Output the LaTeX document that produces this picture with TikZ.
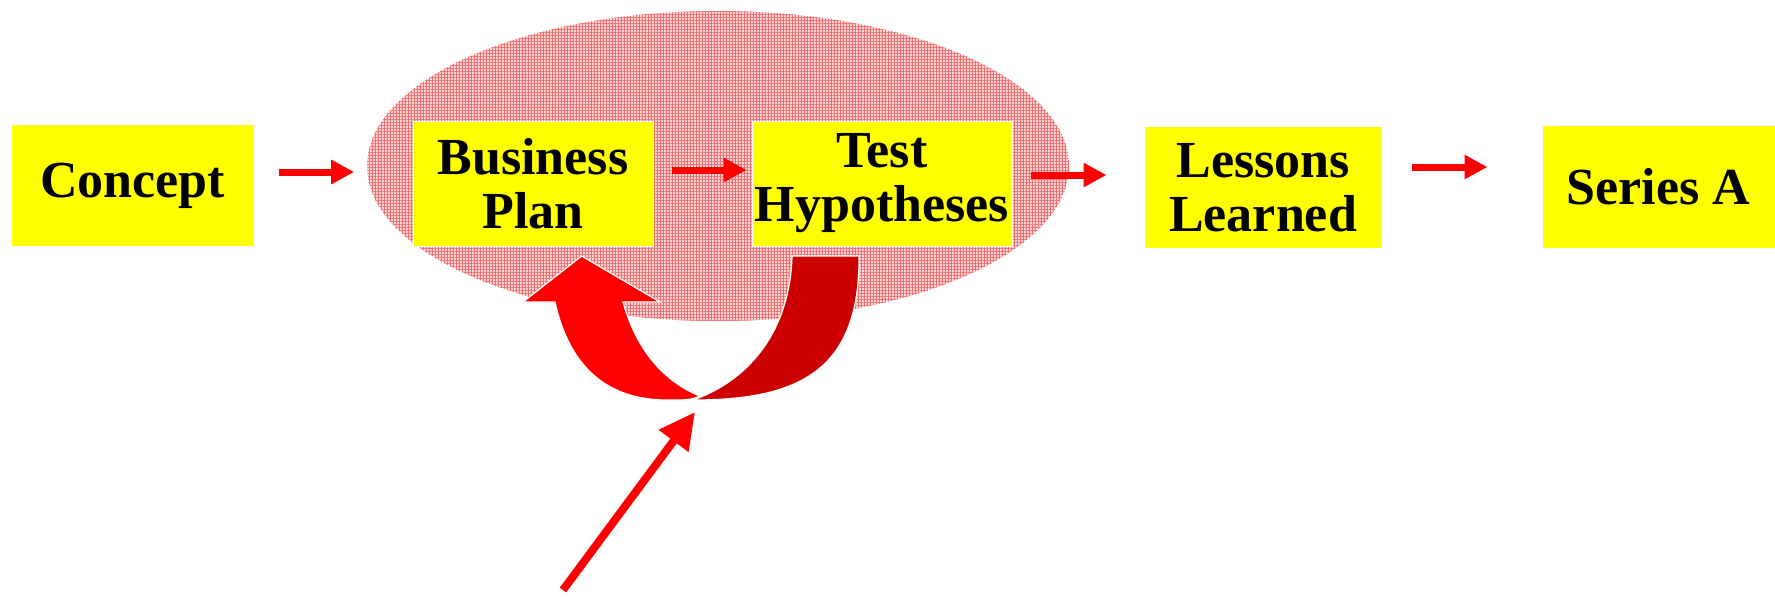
\documentclass[tikz,border=0pt]{standalone}
\usepackage{fontspec}
\setmainfont{Liberation Serif}
\usetikzlibrary{positioning,arrows.meta,calc,shapes,patterns.meta}
\definecolor{boxyellow}{RGB}{255,255,0}
\definecolor{loopred}{RGB}{204,0,0}
\definecolor{haze}{RGB}{252,214,214}
\definecolor{hazeline}{RGB}{242,110,110}
\tikzset{
    stage/.style = {
        draw=white,
        shape=rectangle,
        fill=boxyellow,
        line width=0.5pt,
        minimum height=61pt,
        inner sep=0pt,
        align=center,
        font=\fontsize{26}{27}\selectfont\bfseries
    },
    flow/.style = {
        draw=red,
        line width=3.5pt,
        -{Triangle[length=11.5pt,width=11.5pt]}
    },
    turnshape/.style = {
        draw=white,
        line width=0.6pt
    },
}
\begin{document}
\begin{tikzpicture}[x=0.5pt,y=-0.5pt]
    \useasboundingbox (0,0) rectangle (1775,596);

    \node[ellipse, minimum width=351pt, minimum height=155pt, inner sep=0pt,
        preaction={fill=haze},
        preaction={pattern={Lines[angle=0,distance=1.5pt,line width=0.35pt]}, pattern color=hazeline},
        pattern={Lines[angle=90,distance=1.5pt,line width=0.35pt]}, pattern color=hazeline] (loop) at (718,166) {};

    \node[stage, minimum width=121.5pt] (concept) at (132.5,185.5) {Concept};
    \node[stage, minimum width=120pt, minimum height=62.5pt] (bplan) at (533,183.5) {Business\\Plan};
    \node[stage, minimum width=130pt, minimum height=62.5pt] (hypo) at (882,183.5) {Test\\Hypotheses};
    \node[stage, minimum width=119pt] (lessons) at (1263,187.5) {Lessons\\Learned};
    \node[stage, minimum width=116.5pt, minimum height=61.5pt] (seriesa) at (1658.5,186.5) {Series A};

    \draw[flow] ($(concept.east)+(24,-13.5)$) -- ($(loop.west)+(-12.5,6)$);
    \draw[flow] ($(bplan.east)+(18,-13.5)$) -- ($(hypo.west)+(-5,-13.5)$);
    \draw[flow] ($(hypo.east)+(18,-8.5)$) -- ($(lessons.west)+(-37,-12.5)$);
    \draw[flow] ($(lessons.east)+(29,-20.5)$) -- ($(seriesa.west)+(-54,-19.5)$);

    % loop back to the plan
    \path[fill=red, turnshape] (581.7,256) -- (660,302) -- (623,302)
        .. controls (635,345) and (660,380) .. (700,396)
        .. controls (690,400) .. (667,400)
        .. controls (610,400) and (570,370) .. (555,302) -- (523,302) -- cycle;
    \path[fill=loopred, turnshape] (792,256) -- (859,256)
        .. controls (860,370) and (800,400) .. (693,400)
        .. controls (750,380) and (790,330) .. (792,256) -- cycle;

    \coordinate (push) at (563,590);
    \coordinate (gap) at (695,412);
    \draw[red, line width=4pt, -{Triangle[length=18pt,width=17.5pt]}] (push) -- (gap);

\end{tikzpicture}
\end{document}
